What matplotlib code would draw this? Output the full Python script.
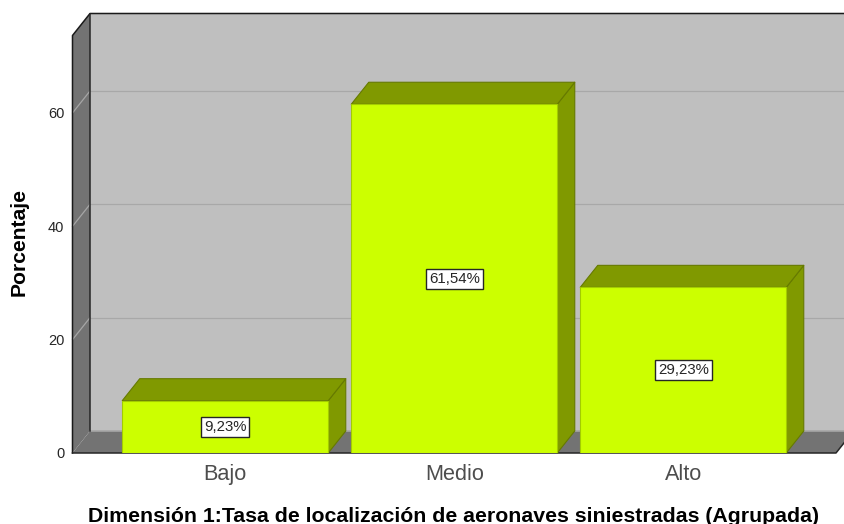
import matplotlib
matplotlib.use('Agg')
import matplotlib.pyplot as plt
from matplotlib.patches import Polygon

plt.rcParams['font.family'] = ['Liberation Sans', 'DejaVu Sans']

categorias = ['Bajo', 'Medio', 'Alto']
porcentajes = [9.23, 61.54, 29.23]
etiquetas = ['9,23%', '61,54%', '29,23%']
y_ticks = [0, 20, 40, 60]

W, H = 844, 524
# caja frontal en pixeles
L, R, B, T = 72.5, 836, 453, 35.5

fig = plt.figure(figsize=(W / 100, H / 100), dpi=100)
ax = fig.add_axes([L / W, 1 - B / H, (R - L) / W, (B - T) / H])
ax.set_xlim(-0.667, 2.667)
ax.set_ylim(0, (B - T) / 5.667)
ax.patch.set_visible(False)

# profundidad del efecto 3D, en unidades de datos
dx = 17.5 / 229
dy = 22 / 5.667
x0, x1 = ax.get_xlim()
y0, y1 = ax.get_ylim()


def cara(puntos, color, borde, lw=0.8, z=1):
    ax.add_patch(Polygon(puntos, closed=True, facecolor=color, edgecolor=borde,
                         linewidth=lw, zorder=z, clip_on=False, joinstyle='round'))


# paredes
cara([(x0 + dx, y0 + dy), (x1 + dx, y0 + dy), (x1 + dx, y1 + dy), (x0 + dx, y1 + dy)], '#bfbfbf', 'none', z=1)
cara([(x0, y0), (x0 + dx, y0 + dy), (x0 + dx, y1 + dy), (x0, y1)], '#737373', 'none', z=2)
cara([(x0, y0), (x1, y0), (x1 + dx, y0 + dy), (x0 + dx, y0 + dy)], '#737373', 'none', z=2)

# rejilla
for t in y_ticks[1:]:
    ax.plot([x0, x0 + dx], [t, t + dy], color='#a6a6a6', lw=0.9, zorder=3, clip_on=False)
    ax.plot([x0 + dx, x1 + dx], [t + dy, t + dy], color='#a8a8a8', lw=0.9, zorder=1.5, clip_on=False)

# bordes de la caja
ax.plot([x0, x0, x0 + dx, x1 + dx], [y0, y1, y1 + dy, y1 + dy], color='#1a1a1a', lw=1.1, zorder=4, clip_on=False)
ax.plot([x0 + dx, x0 + dx], [y0 + dy, y1 + dy], color='#262626', lw=1.1, zorder=4, clip_on=False)
ax.plot([x0 + dx, x1 + dx], [y0 + dy, y0 + dy], color='#a6a6a6', lw=1.2, zorder=3, clip_on=False)
ax.plot([x0, x1, x1 + dx], [y0, y0, y0 + dy], color='#262626', lw=1.1, zorder=4, clip_on=False)

# barras
ancho = 206 / 229
for i, v in enumerate(porcentajes):
    a, b = i - ancho / 2, i + ancho / 2
    cara([(b, 0), (b + dx, dy), (b + dx, v + dy), (b, v)], '#809900', '#667a00', z=5)
    cara([(a, v), (b, v), (b + dx, v + dy), (a + dx, v + dy)], '#809900', '#667a00', z=5)
    ax.bar(i, v, width=ancho, color='#ccff00', edgecolor='#a3cc00', linewidth=0.8, zorder=6)
    ax.text(i, v / 2, etiquetas[i], ha='center', va='center', fontsize=10.8, color='#262626', zorder=7,
            bbox=dict(boxstyle='square,pad=0.2', facecolor='white', edgecolor='#262626', linewidth=1))

for s in ax.spines.values():
    s.set_visible(False)
ax.set_xticks(range(len(categorias)))
ax.set_xticklabels(categorias, fontsize=15.6, color='#4d4d4d')
ax.set_yticks(y_ticks)
ax.tick_params(axis='x', length=0, pad=8)
ax.tick_params(axis='y', length=0, pad=6, labelsize=10.5, labelcolor='#262626')

fig.text(454 / W, 1 - 516 / H, 'Dimensión 1:Tasa de localización de aeronaves siniestradas (Agrupada)',
         ha='center', va='center', fontsize=15.3, fontweight='bold', color='black')
fig.text(19 / W, 1 - 242 / H, 'Porcentaje', ha='center', va='center', rotation=90,
         fontsize=15.2, fontweight='bold', color='black')

fig.savefig('out.png', dpi=100)
